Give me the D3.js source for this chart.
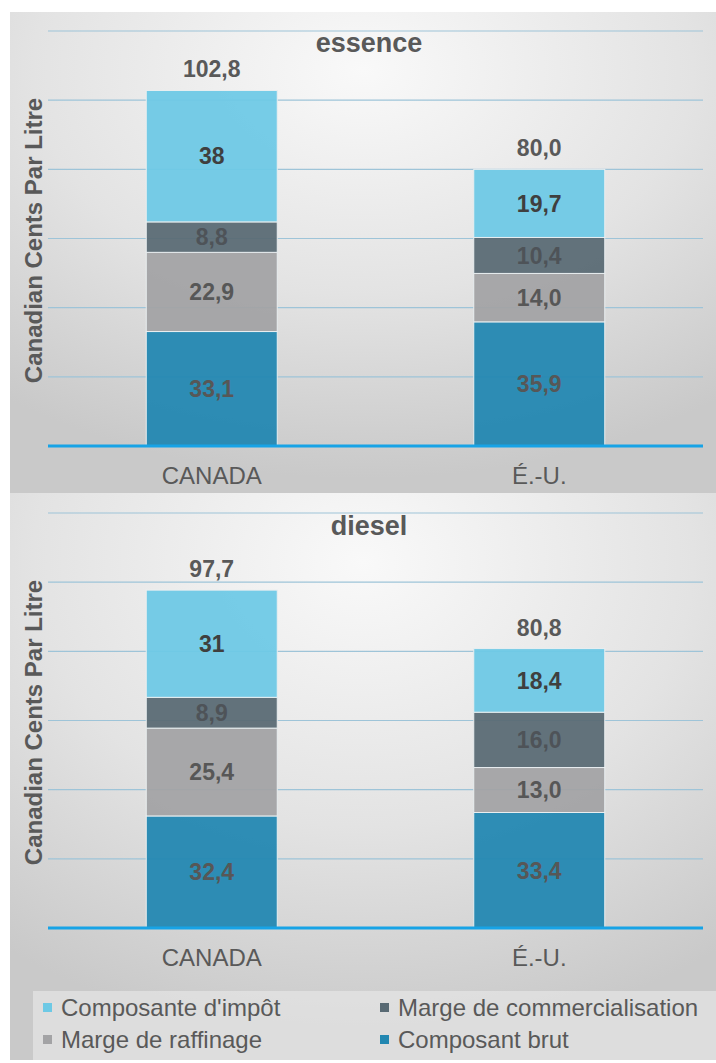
<!DOCTYPE html>
<html><head><meta charset="utf-8">
<script src="https://cdn.jsdelivr.net/npm/d3@7"></script>
<style>
html,body{margin:0;padding:0;background:#fff;}
svg{display:block;font-family:"Liberation Sans",Arial,sans-serif;}
</style></head>
<body>
<svg id="chart" width="716" height="1063"></svg>
<script>
// ---- data ----
const categories = ["CANADA", "É.-U."];
const seriesKeys = ["brut", "raffinage", "commercialisation", "impot"];
const seriesNames = {
  brut: "Composant brut",
  raffinage: "Marge de raffinage",
  commercialisation: "Marge de commercialisation",
  impot: "Composante d'impôt"
};
const seriesColors = {
  brut: "#2287B1",
  raffinage: "#A3A3A5",
  commercialisation: "#596A74",
  impot: "#6DC9E5"
};
const essenceBrut = [33.1, 35.9];
const essenceRaffinage = [22.9, 14.0];
const essenceCommercialisation = [8.8, 10.4];
const essenceImpot = [38, 19.7];
const essenceTotals = [102.8, 80.0];

const dieselBrut = [32.4, 33.4];
const dieselRaffinage = [25.4, 13.0];
const dieselCommercialisation = [8.9, 16.0];
const dieselImpot = [31, 18.4];
const dieselTotals = [97.7, 80.8];

const yTicks = [0, 20, 40, 60, 80, 100, 120];
const legendOrder = [["impot", "commercialisation"], ["raffinage", "brut"]];
const yTitle = "Canadian Cents Par Litre";

// ---- drawing ----
const svg = d3.select("#chart");
const defs = svg.append("defs");
function radial(id) {
  const g = defs.append("radialGradient").attr("id", id)
    .attr("cx", "50%").attr("cy", "12%").attr("r", "85%")
    .attr("fx", "50%").attr("fy", "12%");
  g.append("stop").attr("offset", "0%").attr("stop-color", "#f9f9f9");
  g.append("stop").attr("offset", "55%").attr("stop-color", "#e3e3e3");
  g.append("stop").attr("offset", "100%").attr("stop-color", "#c9c9c9");
}
radial("bg1"); radial("bg2");

svg.append("rect").attr("x", 10).attr("y", 12).attr("width", 706).attr("height", 481).attr("fill", "url(#bg1)");
svg.append("rect").attr("x", 10).attr("y", 493).attr("width", 706).attr("height", 567).attr("fill", "url(#bg2)");

const fmt1 = v => d3.format(".1f")(v).replace(".", ",");
const fmtTrim = v => d3.format("~f")(v).replace(".", ",");

function drawChart(cfg) {
  const g = svg.append("g");
  const y = d3.scaleLinear().domain([0, 120]).range([cfg.y0, cfg.y1]);
  const x = d3.scaleBand().domain(categories).range([48, 703]).paddingInner(0.6).paddingOuter(0.3);

  // gridlines
  g.selectAll("line.grid").data(yTicks.filter(t => t > 0)).join("line")
    .attr("x1", 48).attr("x2", 703)
    .attr("y1", d => y(d)).attr("y2", d => y(d))
    .attr("stroke", "#9ec4d8").attr("stroke-width", 1.2);

  // stack
  const rows = categories.map((c, i) => {
    const r = { cat: c };
    seriesKeys.forEach(k => r[k] = cfg.data[k][i]);
    return r;
  });
  const stacked = d3.stack().keys(seriesKeys)(rows);
  stacked.forEach(layer => {
    const key = layer.key;
    g.selectAll(null).data(layer).join("rect")
      .attr("x", d => x(d.data.cat))
      .attr("width", x.bandwidth())
      .attr("y", d => y(d[1]))
      .attr("height", d => y(d[0]) - y(d[1]))
      .attr("fill", seriesColors[key])
      .attr("fill-opacity", 0.94)
      .attr("stroke", "#e9eef0").attr("stroke-width", 1);
  });
  stacked.forEach(layer => {
    const key = layer.key;
    g.selectAll(null).data(layer).join("text")
      .attr("x", d => x(d.data.cat) + x.bandwidth() / 2)
      .attr("y", d => (y(d[0]) + y(d[1])) / 2)
      .attr("dy", "0.36em")
      .attr("text-anchor", "middle")
      .attr("font-size", 23).attr("font-weight", "bold")
      .attr("fill", key === "impot" ? "#3f3f3f" : (key === "commercialisation" ? "#4e5358" : "#575757"))
      .text(d => key === "impot" ? fmtTrim(d[1] - d[0]) : fmt1(d[1] - d[0]));
  });
  // totals
  g.selectAll(null).data(cfg.totals).join("text")
    .attr("x", (d, i) => x(categories[i]) + x.bandwidth() / 2)
    .attr("y", d => y(d) - 13)
    .attr("text-anchor", "middle")
    .attr("font-size", 23).attr("font-weight", "bold").attr("fill", "#595959")
    .text(d => fmt1(d));

  // baseline
  g.append("line").attr("x1", 48).attr("x2", 703)
    .attr("y1", y(0)).attr("y2", y(0))
    .attr("stroke", "#17a3e6").attr("stroke-width", 3);

  // x axis labels
  const xa = g.append("g").attr("transform", `translate(0,${y(0)})`)
    .call(d3.axisBottom(x).tickSize(0).tickPadding(0));
  xa.select(".domain").remove();
  xa.selectAll("text").attr("y", 38).attr("dy", 0)
    .attr("font-size", 24).attr("fill", "#595959")
    .attr("font-family", "'Liberation Sans',Arial,sans-serif");

  // title
  g.append("text").attr("x", 369).attr("y", cfg.titleY)
    .attr("text-anchor", "middle").attr("font-size", 27).attr("font-weight", "bold")
    .attr("fill", "#595959").text(cfg.title);

  // y title
  g.append("text")
    .attr("transform", `translate(42,${(cfg.y0 + cfg.y1) / 2 + 2}) rotate(-90)`)
    .attr("text-anchor", "middle").attr("font-size", 24).attr("font-weight", "bold")
    .attr("fill", "#595959").text(yTitle);
}

drawChart({
  y0: 446, y1: 31, title: "essence", titleY: 52,
  data: { brut: essenceBrut, raffinage: essenceRaffinage, commercialisation: essenceCommercialisation, impot: essenceImpot },
  totals: essenceTotals
});
drawChart({
  y0: 928, y1: 513, title: "diesel", titleY: 535,
  data: { brut: dieselBrut, raffinage: dieselRaffinage, commercialisation: dieselCommercialisation, impot: dieselImpot },
  totals: dieselTotals
});

// legend
svg.append("rect").attr("x", 33).attr("y", 991).attr("width", 683).attr("height", 69)
  .attr("fill", "#ececec").attr("fill-opacity", 0.55);
const colX = [43, 380];
const rowY = [1016, 1048];
legendOrder.forEach((row, ri) => {
  row.forEach((key, ci) => {
    svg.append("rect").attr("x", colX[ci]).attr("y", rowY[ri] - 13).attr("width", 9).attr("height", 9)
      .attr("fill", seriesColors[key]);
    svg.append("text").attr("x", colX[ci] + 18).attr("y", rowY[ri])
      .attr("font-size", 24).attr("fill", "#595959").text(seriesNames[key]);
  });
});
</script>
</body></html>
